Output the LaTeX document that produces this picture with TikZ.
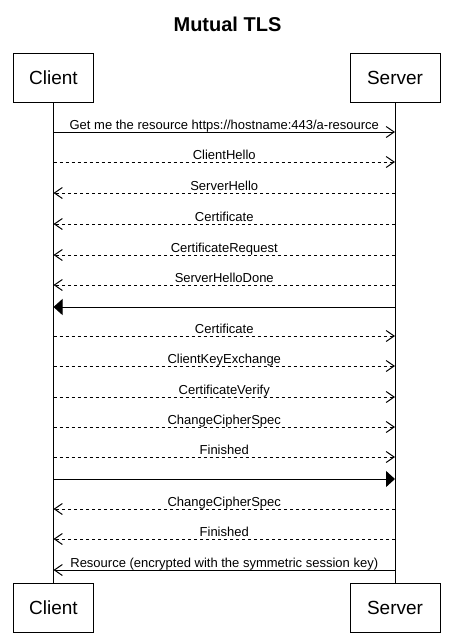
\documentclass[tikz,border=0pt]{standalone}
\usepackage{fontspec}
\setmainfont{Liberation Sans}
\usetikzlibrary{arrows.meta}

\tikzset{
  actor/.style={draw, minimum height=49pt, inner sep=0pt, font=\fontsize{19}{23}\selectfont},
  call/.style={-{Straight Barb[length=8pt,width=11pt]}},
  reply/.style={dash pattern=on 3pt off 3pt, -{Straight Barb[length=8pt,width=11pt]}},
  block/.style={-{Triangle[length=9pt,width=16pt]}},
  lbl/.style={midway, anchor=base, yshift=2.5pt, inner sep=0pt, font=\fontsize{13}{15}\selectfont}
}

\begin{document}
\begin{tikzpicture}[x=1pt, y=-1pt, line width=1pt]
        \useasboundingbox (0,0) rectangle (454,641);

        % Title
        \node[anchor=base, font=\bfseries\fontsize{20}{24}\selectfont] (title) at (227.5,31) {Mutual TLS};

        % Participants
        \node[actor, minimum width=80pt] (client) at (53.5,77.5) {Client};
        \node[actor, minimum width=90pt] (server) at (395,77.5) {Server};
        \node[actor, minimum width=80pt] (clientb) at (53.5,607.5) {Client};
        \node[actor, minimum width=90pt] (serverb) at (395,607.5) {Server};

        % Lifelines
        \draw (client) -- (clientb);
        \draw (server) -- (serverb);

        % Message points
        \coordinate (c1) at (53.5,132);  \coordinate (s1) at (395,132);
        \coordinate (c2) at (53.5,162);  \coordinate (s2) at (395,162);
        \coordinate (c3) at (53.5,193);  \coordinate (s3) at (395,193);
        \coordinate (c4) at (53.5,224);  \coordinate (s4) at (395,224);
        \coordinate (c5) at (53.5,255);  \coordinate (s5) at (395,255);
        \coordinate (c6) at (53.5,285);  \coordinate (s6) at (395,285);
        \coordinate (c7) at (53.5,307);  \coordinate (s7) at (395,307);
        \coordinate (c8) at (53.5,336);  \coordinate (s8) at (395,336);
        \coordinate (c9) at (53.5,366);  \coordinate (s9) at (395,366);
        \coordinate (c10) at (53.5,397); \coordinate (s10) at (395,397);
        \coordinate (c11) at (53.5,427); \coordinate (s11) at (395,427);
        \coordinate (c12) at (53.5,457); \coordinate (s12) at (395,457);
        \coordinate (c13) at (53.5,479); \coordinate (s13) at (395,479);
        \coordinate (c14) at (53.5,509); \coordinate (s14) at (395,509);
        \coordinate (c15) at (53.5,539); \coordinate (s15) at (395,539);
        \coordinate (c16) at (53.5,570); \coordinate (s16) at (395,570);

        % Messages
        \draw[call] (c1) -- (s1) node[lbl] {Get me the resource https://hostname:443/a-resource};
        \draw[reply] (c2) -- (s2) node[lbl] {ClientHello};
        \draw[reply] (s3) -- (c3) node[lbl] {ServerHello};
        \draw[reply] (s4) -- (c4) node[lbl] {Certificate};
        \draw[reply] (s5) -- (c5) node[lbl] {CertificateRequest};
        \draw[reply] (s6) -- (c6) node[lbl] {ServerHelloDone};
        \draw[block] (s7) -- (c7);
        \draw[reply] (c8) -- (s8) node[lbl] {Certificate};
        \draw[reply] (c9) -- (s9) node[lbl] {ClientKeyExchange};
        \draw[reply] (c10) -- (s10) node[lbl] {CertificateVerify};
        \draw[reply] (c11) -- (s11) node[lbl] {ChangeCipherSpec};
        \draw[reply] (c12) -- (s12) node[lbl] {Finished};
        \draw[block] (c13) -- (s13);
        \draw[reply] (s14) -- (c14) node[lbl] {ChangeCipherSpec};
        \draw[reply] (s15) -- (c15) node[lbl] {Finished};
        \draw[call] (s16) -- (c16) node[lbl] {Resource (encrypted with the symmetric session key)};
    \end{tikzpicture}
\end{document}
